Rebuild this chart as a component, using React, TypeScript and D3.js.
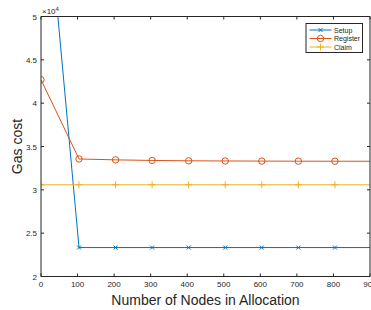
import React from "react";
import * as d3 from "d3";

const nodes = [0, 104, 204, 304, 404, 504, 604, 704, 804, 900];
const setupCost = [71300, 23340, 23340, 23340, 23340, 23340, 23340, 23340, 23340, 23340];
const registerCost = [42700, 33560, 33460, 33390, 33350, 33330, 33315, 33305, 33300, 33295];
const claimCost = [30580, 30580, 30580, 30580, 30580, 30580, 30580, 30580, 30580, 30580];
const markerCount = 9;
const xTicks = [0, 100, 200, 300, 400, 500, 600, 700, 800, 900];
const yTicks = [20000, 25000, 30000, 35000, 40000, 45000, 50000];
const yTickLabels = ["2", "2.5", "3", "3.5", "4", "4.5", "5"];
const seriesNames = ["Setup", "Register", "Claim"];
const seriesColors = ["#0072BD", "#D95319", "#EDB120"];

const W = 371, H = 310;
const L = 41, R = 370, T = 16.5, B = 276.5;

export default function App() {
  const x = d3.scaleLinear().domain([0, 900]).range([L, R]);
  const y = d3.scaleLinear().domain([20000, 50000]).range([B, T]);
  const series = [setupCost, registerCost, claimCost];
  const line = d3.line<number>().x((_, i) => x(nodes[i])).y((d) => y(d));
  const axisColor = "#262626";
  const font = "Liberation Sans, Arial, Helvetica, sans-serif";

  const marker = (k: number, cx: number, cy: number, color: string, key: string) => {
    if (k === 0) {
      const s = 2;
      return (
        <g key={key} stroke={color} strokeWidth={1}>
          <line x1={cx - s} y1={cy - s} x2={cx + s} y2={cy + s} />
          <line x1={cx - s} y1={cy + s} x2={cx + s} y2={cy - s} />
        </g>
      );
    }
    if (k === 1) {
      return <circle key={key} cx={cx} cy={cy} r={3.2} fill="none" stroke={color} strokeWidth={1} />;
    }
    const s = 3.5;
    return (
      <g key={key} stroke={color} strokeWidth={1}>
        <line x1={cx - s} y1={cy} x2={cx + s} y2={cy} />
        <line x1={cx} y1={cy - s} x2={cx} y2={cy + s} />
      </g>
    );
  };

  return (
    <svg width={W} height={H} style={{ position: "absolute", left: 0, top: 0, background: "#fff" }}>
      <defs>
        <clipPath id="plotclip">
          <rect x={L} y={T} width={R - L} height={B - T} />
        </clipPath>
      </defs>
      <rect x={0} y={0} width={W} height={H} fill="#fff" />
      {/* data */}
      <g clipPath="url(#plotclip)">
        {series.map((s, k) => (
          <g key={k}>
            <path d={line(s) || ""} fill="none" stroke={seriesColors[k]} strokeWidth={1} />
            {s.slice(0, markerCount).map((v, i) =>
              marker(k, x(nodes[i]), y(v), seriesColors[k], `${k}-${i}`)
            )}
          </g>
        ))}
      </g>
      {/* axes box */}
      <g stroke={axisColor} strokeWidth={1} fill="none">
        <line x1={L} y1={B} x2={R} y2={B} />
        <line x1={L} y1={T} x2={R} y2={T} />
        <line x1={L} y1={T} x2={L} y2={B} />
        <line x1={R} y1={T} x2={R} y2={B} />
        {xTicks.map((t) => (
          <g key={"xt" + t}>
            <line x1={x(t)} y1={B} x2={x(t)} y2={B - 3} />
            <line x1={x(t)} y1={T} x2={x(t)} y2={T + 3} />
          </g>
        ))}
        {yTicks.map((t) => (
          <g key={"yt" + t}>
            <line x1={L} y1={y(t)} x2={L + 3} y2={y(t)} />
            <line x1={R} y1={y(t)} x2={R - 3} y2={y(t)} />
          </g>
        ))}
      </g>
      <g fontFamily={font} fontSize={8} fill={axisColor}>
        {xTicks.map((t) => (
          <text key={"xl" + t} x={x(t)} y={B + 10} textAnchor="middle">
            {t}
          </text>
        ))}
        {yTicks.map((t, i) => (
          <text key={"yl" + t} x={L - 4} y={y(t) + 3} textAnchor="end">
            {yTickLabels[i]}
          </text>
        ))}
        <text x={L + 1} y={T - 2.5} fontSize={8}>
          ×10
          <tspan dy={-3.5} fontSize={6}>4</tspan>
        </text>
      </g>
      <text
        x={(L + R) / 2}
        y={304.5}
        textAnchor="middle"
        fontFamily={font}
        fontSize={14}
        fill={axisColor}
      >
        Number of Nodes in Allocation
      </text>
      <text
        transform={`translate(22, ${(T + B) / 2}) rotate(-90)`}
        textAnchor="middle"
        fontFamily={font}
        fontSize={14}
        fill={axisColor}
      >
        Gas cost
      </text>
      {/* legend */}
      <g>
        <rect x={306} y={23.5} width={56.5} height={29} fill="#fff" stroke={axisColor} strokeWidth={1} />
        {seriesNames.map((n, k) => {
          const ly = 30 + k * 8.5;
          return (
            <g key={n}>
              <line x1={309.5} y1={ly} x2={331.5} y2={ly} stroke={seriesColors[k]} strokeWidth={1} />
              {marker(k, 320.5, ly, seriesColors[k], "lg" + k)}
              <text x={334} y={ly + 2.5} fontFamily={font} fontSize={7} fill={axisColor}>
                {n}
              </text>
            </g>
          );
        })}
      </g>
    </svg>
  );
}
